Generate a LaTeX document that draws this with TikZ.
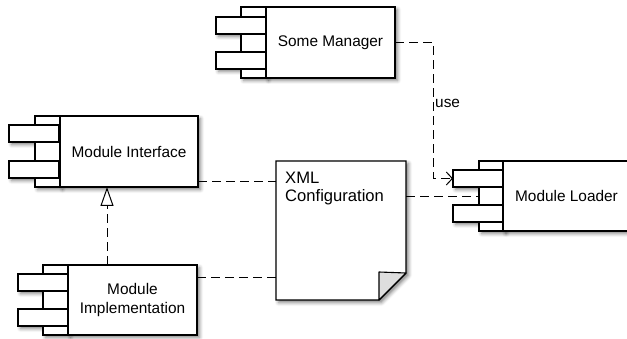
\documentclass[tikz,border=0pt]{standalone}
\usepackage{fontspec}
\setmainfont{Liberation Sans}
\usetikzlibrary{arrows.meta,shadows.blur,calc}
\pgfdeclarelayer{background}
\pgfsetlayers{background,main}
\begin{document}
\begin{tikzpicture}[x=1pt,y=-1pt,
  part/.style={draw, line width=1.1pt, fill=white, inner sep=0pt, outer sep=0pt},
  lbl/.style={font=\fontsize{15.4}{19.5}\selectfont, align=center},
  dep/.style={line width=1pt, dash pattern=on 9pt off 5pt},
  shd/.style={blur shadow={shadow xshift=2.5pt, shadow yshift=-2.5pt, shadow blur radius=3.5pt, shadow opacity=50}},
  strip/.style={part, minimum width=25pt, anchor=north west},
  tab/.style={part, minimum width=50pt, minimum height=17pt, anchor=north west}]
\useasboundingbox (0,0) rectangle (627,339);

% Some Manager
\node[strip, minimum height=71pt] (sms) at (241,7) {};
\node[tab] (smt1) at (216,17) {};
\node[tab] (smt2) at (216,52) {};
\node[part, lbl, minimum width=129pt, minimum height=71pt, anchor=north west] (sm) at (266,7) {Some Manager};

% Module Interface
\node[strip, minimum height=71pt] (mis) at (35,116) {};
\node[tab] (mit1) at (9,125) {};
\node[tab] (mit2) at (9,161) {};
\node[part, lbl, minimum width=138pt, minimum height=71pt, anchor=north west] (mi) at (60,116) {Module Interface};

% Module Implementation
\node[strip, minimum height=70pt] (mps) at (43,265) {};
\node[tab] (mpt1) at (18,274) {};
\node[tab] (mpt2) at (18,309) {};
\node[part, lbl, minimum width=129pt, minimum height=70pt, anchor=north west] (mp) at (68,265) {Module\\Implementation};

% Module Loader
\node[strip, minimum height=70pt] (mls) at (479,161) {};
\node[tab] (mlt1) at (453,170) {};
\node[tab] (mlt2) at (453,205) {};
\node[part, lbl, minimum width=127pt, minimum height=70pt, anchor=north west] (ml) at (503,161) {Module Loader};

% XML Configuration document
\node[minimum width=130pt, minimum height=139pt, anchor=north west, inner sep=0pt, outer sep=0pt] (xml) at (276,161) {};
\draw[part] (xml.north west) -- (xml.north east) -- ($(xml.south east)+(0,-27)$)
  -- ($(xml.south east)+(-27,0)$) -- (xml.south west) -- cycle;
\draw[part, fill=black!13, line join=round] ($(xml.south east)+(-27,0)$) -- ($(xml.south east)+(-27,-28)$)
  -- ($(xml.south east)+(0,-27)$) -- cycle;
\node[font=\fontsize{16.6}{17.5}\selectfont, align=left, anchor=north west, inner sep=0pt] (xmltxt) at (285,172) {XML\\Configuration};

% shadows
\begin{pgfonlayer}{background}
  \foreach \n in {sms,smt1,smt2,sm,mis,mit1,mit2,mi,mps,mpt1,mpt2,mp,mls,mlt1,mlt2,ml}
    \path[shd] (\n.north west) rectangle (\n.south east);
  \path[shd] (xml.north west) -- (xml.north east) -- ($(xml.south east)+(0,-27)$)
  -- ($(xml.south east)+(-27,0)$) -- (xml.south west) -- cycle;
\end{pgfonlayer}

% connectors
\coordinate (bend) at ($(mlt1.west)+(-20,0)$);
\draw[dep, -{Straight Barb[length=6pt,width=13pt,line width=1pt]}] (sm.east) -| (bend) -- (mlt1.west);
\node[lbl, anchor=west, inner sep=1pt] (use) at (434,103) {use};

\coordinate (r1) at (107,0);
\draw[dep, -{Triangle[open, length=19pt, width=13pt, line width=1pt]}] (mp.north -| r1) -- (mi.south -| r1);

\coordinate (a1) at ($(mi.south east)+(0,-5)$);
\draw[dep] (a1) -- (a1 -| xml.west);
\coordinate (a2) at ($(mp.north east)+(0,13)$);
\draw[dep] (a2) -- (a2 -| xml.west);
\coordinate (a3) at ($(xml.north east)+(0,36)$);
\draw[dep] (a3) -- (a3 -| mls.west);
\end{tikzpicture}
\end{document}
